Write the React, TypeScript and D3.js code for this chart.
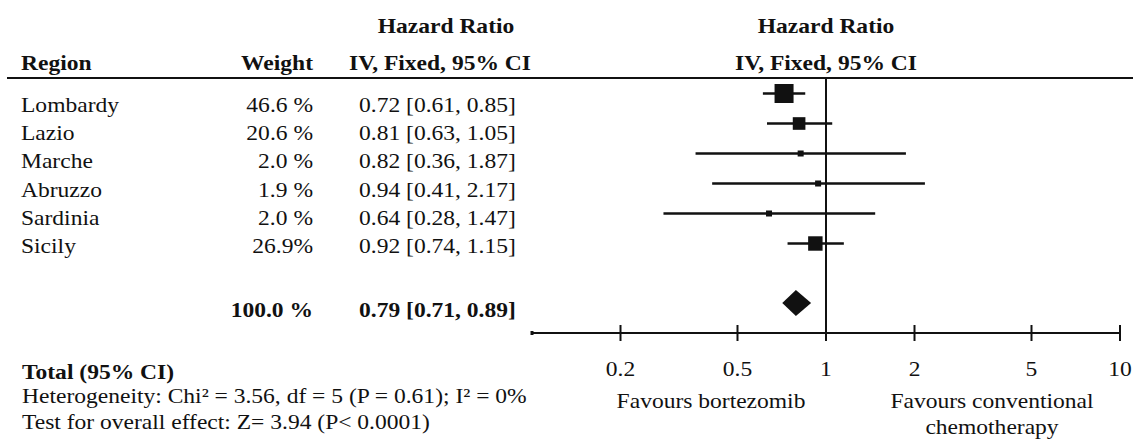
import React from "react";
import * as d3 from "d3";

const regions = ["Lombardy", "Lazio", "Marche", "Abruzzo", "Sardinia", "Sicily"];
const weights = [46.6, 20.6, 2.0, 1.9, 2.0, 26.9];
const weightLabels = ["46.6 %", "20.6 %", "2.0 %", "1.9 %", "2.0 %", "26.9%"];
const hazardRatios = [0.72, 0.81, 0.82, 0.94, 0.64, 0.92];
const ciLower = [0.61, 0.63, 0.36, 0.41, 0.28, 0.74];
const ciUpper = [0.85, 1.05, 1.87, 2.17, 1.47, 1.15];
const totalWeightLabel = "100.0 %";
const totalHR = 0.79;
const totalLower = 0.71;
const totalUpper = 0.89;
const axisTicks = [0.2, 0.5, 1, 2, 5, 10];
const axisDomain: [number, number] = [0.1, 10];
const leftLabel = "Favours bortezomib";
const rightLabel = ["Favours conventional", "chemotherapy"];
const heterogeneity = "Heterogeneity: Chi\u00B2 = 3.56, df = 5 (P = 0.61); I\u00B2 = 0%";
const overallEffect = "Test for overall effect: Z= 3.94 (P< 0.0001)";

const W = 1133;
const H = 440;
const FONT = "'Liberation Serif', 'Times New Roman', serif";
const INK = "#111";
const FS = 22;
const STRETCH = 1.07;

type TProps = {
  x: number;
  y: number;
  anchor?: "start" | "middle" | "end";
  bold?: boolean;
  children: React.ReactNode;
};

function T({ x, y, anchor = "start", bold = false, children }: TProps) {
  return (
    <text
      transform={`translate(${x},${y}) scale(${STRETCH},1)`}
      textAnchor={anchor}
      fontWeight={bold ? "bold" : "normal"}
    >
      {children}
    </text>
  );
}

export default function App() {
  const x = d3.scaleLog().domain(axisDomain).range([532, 1120]);
  const idx = d3.range(regions.length);
  const markerY = d3.scaleLinear().domain([0, 1]).range([93.5, 123.5]);
  const textY = d3.scaleLinear().domain([0, 1]).range([112, 140.2]);
  const size = d3.scaleSqrt().domain([0, d3.max(weights) as number]).range([0, 19]);
  const axisY = 333;
  const diamondY = 303;
  const fmt = (v: number) => v.toFixed(2);

  const diamond = d3.line()([
    [x(totalLower), diamondY],
    [x(totalHR), diamondY - 13],
    [x(totalUpper), diamondY],
    [x(totalHR), diamondY + 13],
  ]) + "Z";

  return (
    <svg
      width={W}
      height={H}
      style={{ position: "absolute", left: 0, top: 0, background: "#fff" }}
      fontFamily={FONT}
      fontSize={FS}
      fill={INK}
    >
      {/* headers */}
      <T x={21} y={70} bold>Region</T>
      <T x={313} y={70} anchor="end" bold>Weight</T>
      <T x={446} y={33} anchor="middle" bold>Hazard Ratio</T>
      <T x={440} y={70} anchor="middle" bold>IV, Fixed, 95% CI</T>
      <T x={x(1)} y={33} anchor="middle" bold>Hazard Ratio</T>
      <T x={x(1)} y={70} anchor="middle" bold>IV, Fixed, 95% CI</T>
      <line x1={7} x2={W} y1={78} y2={78} stroke={INK} strokeWidth={2} />

      {/* rows text */}
      {idx.map((i) => (
        <g key={regions[i]}>
          <T x={21} y={textY(i)}>{regions[i]}</T>
          <T x={313} y={textY(i)} anchor="end">{weightLabels[i]}</T>
          <T x={359} y={textY(i)}>
            {`${fmt(hazardRatios[i])} [${fmt(ciLower[i])}, ${fmt(ciUpper[i])}]`}
          </T>
        </g>
      ))}
      <T x={313} y={317} anchor="end" bold>{totalWeightLabel}</T>
      <T x={359} y={317} bold>{`${fmt(totalHR)} [${fmt(totalLower)}, ${fmt(totalUpper)}]`}</T>

      {/* null line */}
      <line x1={x(1)} x2={x(1)} y1={78} y2={axisY} stroke={INK} strokeWidth={2} />

      {/* CI lines and markers */}
      {idx.map((i) => {
        const s = Math.max(6, size(weights[i]));
        return (
          <g key={"m" + i}>
            <line
              x1={x(ciLower[i])}
              x2={x(ciUpper[i])}
              y1={markerY(i)}
              y2={markerY(i)}
              stroke={INK}
              strokeWidth={2.5}
            />
            <rect
              x={x(hazardRatios[i]) - s / 2}
              y={markerY(i) - s / 2}
              width={s}
              height={s}
              fill={INK}
            />
          </g>
        );
      })}
      <path d={diamond} fill={INK} />

      {/* axis */}
      <line x1={x(axisDomain[0])} x2={x(axisDomain[1])} y1={axisY} y2={axisY} stroke={INK} strokeWidth={2} />
      <line x1={x(axisDomain[0])} x2={x(axisDomain[0])} y1={axisY - 2} y2={axisY + 2} stroke={INK} strokeWidth={3} />
      {axisTicks.map((t) => (
        <g key={"t" + t}>
          <line x1={x(t)} x2={x(t)} y1={axisY - 8} y2={axisY + 8} stroke={INK} strokeWidth={2} />
          <T x={x(t)} y={376} anchor="middle">{String(t)}</T>
        </g>
      ))}
      <T x={711} y={408} anchor="middle">{leftLabel}</T>
      <T x={992} y={408} anchor="middle">{rightLabel[0]}</T>
      <T x={992} y={434} anchor="middle">{rightLabel[1]}</T>

      {/* footer */}
      <T x={22} y={379} bold>Total (95% CI)</T>
      <T x={22} y={403}>{heterogeneity}</T>
      <T x={22} y={429}>{overallEffect}</T>
    </svg>
  );
}
